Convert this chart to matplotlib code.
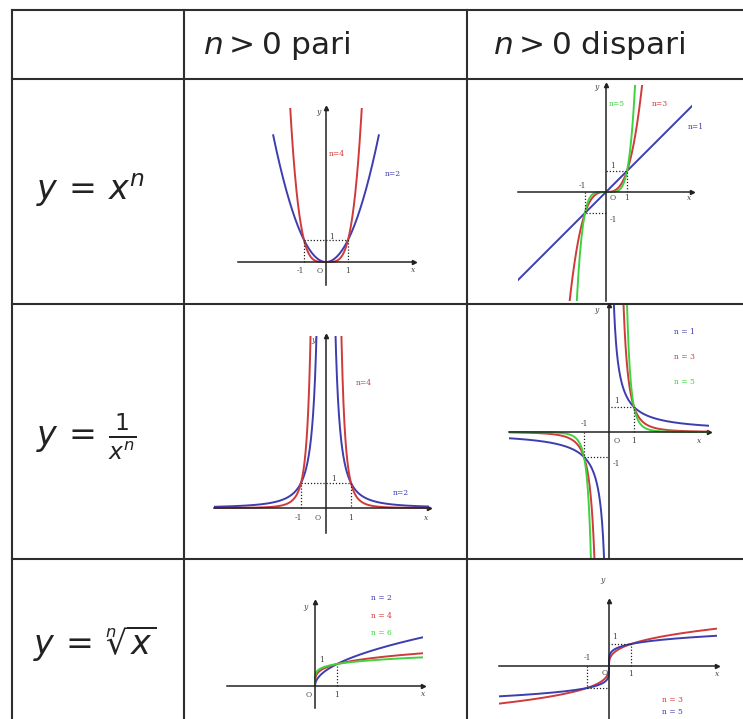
import numpy as np
import matplotlib
matplotlib.use("Agg")
import matplotlib.pyplot as plt

plt.rcParams['mathtext.fontset'] = 'dejavusans'
plt.rcParams['font.family'] = ['DejaVu Sans']

W, H = 743, 719

# ---------------- table text ----------------
col_headers = [r"$n > 0$ pari", r"$n > 0$ dispari"]
row_labels = [r"$y\,=\,x^n$", r"$y\,=\,\frac{1}{x^n}$", r"$y\,=\,\sqrt[n]{x}$"]

# ---------------- curve data (exponents and colours) ----------------
BLUE, RED, GREEN = "#3d3db0", "#d03a3a", "#3fd23f"
even_pow_n = [2, 4]
even_pow_ext = [2.4, 1.64]
even_pow_col = [BLUE, RED]
odd_pow_n = [1, 3, 5]
odd_pow_col = [BLUE, RED, GREEN]
even_inv_n = [2, 4]
even_inv_col = [BLUE, RED]
odd_inv_n = [1, 3, 5]
odd_inv_col = [BLUE, RED, GREEN]
even_root_n = [2, 4, 6]
even_root_col = [BLUE, RED, GREEN]
odd_root_n = [3, 5]
odd_root_col = [RED, BLUE]

fig = plt.figure(figsize=(W / 100, H / 100), dpi=100)
fig.patch.set_facecolor("white")

# table overlay
tab = fig.add_axes([0, 0, 1, 1], zorder=0)
tab.set_xlim(0, W)
tab.set_ylim(H, 0)
tab.axis("off")
lc, lw = "#2e2e2e", 1.5
for yy in [9.5, 79, 304, 559]:
    tab.plot([12, W], [yy, yy], color=lc, lw=lw)
for xx in [12, 184, 467]:
    tab.plot([xx, xx], [9.5, H], color=lc, lw=lw)

hdr_x = [203, 493]
for x, t in zip(hdr_x, col_headers):
    tab.text(x, 45, t, fontsize=22.5, ha="left", va="center", color="#222")
row_pos = [(90, 190), (86, 437), (95, 643)]
for (x, y), t in zip(row_pos, row_labels):
    tab.text(x, y, t, fontsize=24, ha="center", va="center", color="#222")


def make_ax(ox, oy, u, xlim, ylim):
    left = ox + xlim[0] * u
    right = ox + xlim[1] * u
    top = oy - ylim[1] * u
    bottom = oy - ylim[0] * u
    ax = fig.add_axes([left / W, 1 - bottom / H, (right - left) / W, (bottom - top) / H], zorder=2)
    ax.set_xlim(*xlim)
    ax.set_ylim(*ylim)
    ax.patch.set_alpha(0)
    for s in ["top", "right"]:
        ax.spines[s].set_visible(False)
    ax.spines["left"].set_position(("data", 0))
    ax.spines["bottom"].set_position(("data", 0))
    for s in ["left", "bottom"]:
        ax.spines[s].set_color("#222")
        ax.spines[s].set_linewidth(1.1)
    ax.set_xticks([])
    ax.set_yticks([])
    ax.plot(1, 0, ">", color="#222", ms=3, transform=ax.get_yaxis_transform(), clip_on=False)
    ax.plot(0, 1, "^", color="#222", ms=3, transform=ax.get_xaxis_transform(), clip_on=False)
    return ax


def lab(ax, x, y, t, color="#444", size=5.5, **kw):
    ax.text(x, y, t, fontsize=size, color=color, family="DejaVu Serif",
            ha="center", va="center", **kw)


def dotted(ax, xs, ys):
    ax.plot(xs, ys, color="#222", lw=0.9, ls=(0, (1, 1.5)))


# ---- P1: x^n, n even ----
ax = make_ax(326, 262, 22, (-4, 4), (-1.05, 7.0))
for n, e, c in zip(even_pow_n, even_pow_ext, even_pow_col):
    x = np.linspace(-e, e, 400)
    ax.plot(x, x ** n, color=c, lw=1.4)
dotted(ax, [-1, -1, 1, 1], [0, 1, 1, 0])
lab(ax, 0.5, 4.9, "n=4", RED)
lab(ax, 3.05, 4.0, "n=2", BLUE)
lab(ax, -0.36, 6.8, "y", style="italic")
lab(ax, 3.95, -0.36, "x", style="italic")
lab(ax, -1.15, -0.4, "-1"); lab(ax, -0.3, -0.4, "O"); lab(ax, 1, -0.4, "1"); lab(ax, 0.27, 1.15, "1")

# ---- P2: x^n, n odd ----
ax = make_ax(606, 192, 21, (-4.2, 4.1), (-5.2, 5.1))
for n, c in zip(odd_pow_n, odd_pow_col):
    x = np.linspace(-4.2, 4.1, 800)
    ax.plot(x, x ** n, color=c, lw=1.4)
dotted(ax, [-1, -1, 0], [0, -1, -1])
dotted(ax, [1, 1, 0], [0, 1, 1])
lab(ax, 0.52, 4.2, "n=5", GREEN)
lab(ax, 2.57, 4.2, "n=3", RED)
lab(ax, 4.3, 3.1, "n=1", BLUE)
lab(ax, -0.45, 5.0, "y", style="italic")
lab(ax, 3.95, -0.3, "x", style="italic")
lab(ax, -1.1, 0.3, "-1"); lab(ax, 0.3, -0.3, "O"); lab(ax, 1, -0.3, "1")
lab(ax, 0.3, 1.25, "1"); lab(ax, 0.35, -1.35, "-1")

# ---- P3: 1/x^n, n even ----
ax = make_ax(326, 508, 25, (-4.5, 4.1), (-1.0, 6.9))
for n, c in zip(even_inv_n, even_inv_col):
    for sgn in (-1, 1):
        x = sgn * np.linspace(0.3, 4.5 if sgn < 0 else 4.1, 600)
        ax.plot(x, 1 / x ** n, color=c, lw=1.4)
dotted(ax, [-1, -1, 1, 1], [0, 1, 1, 0])
lab(ax, 1.5, 5.0, "n=4", RED)
lab(ax, 3.0, 0.6, "n=2", BLUE)
lab(ax, -0.5, 6.7, "y", style="italic")
lab(ax, 4.0, -0.4, "x", style="italic")
lab(ax, -1.1, -0.4, "-1"); lab(ax, -0.35, -0.4, "O"); lab(ax, 1, -0.4, "1"); lab(ax, 0.32, 1.15, "1")

# ---- P4: 1/x^n, n odd ----
ax = make_ax(609, 432, 25, (-4, 4), (-5.05, 5.1))
for n, c in zip(odd_inv_n, odd_inv_col):
    for sgn in (-1, 1):
        x = sgn * np.linspace(0.15, 4, 600)
        ax.plot(x, 1 / x ** n, color=c, lw=1.4)
dotted(ax, [1, 1, 0], [0, 1, 1])
dotted(ax, [-1, -1, 0], [0, -1, -1])
lab(ax, 3.0, 4.0, "n = 1", BLUE)
lab(ax, 3.0, 3.0, "n = 3", RED)
lab(ax, 3.0, 2.0, "n = 5", GREEN)
lab(ax, -0.5, 4.9, "y", style="italic")
lab(ax, 3.6, -0.35, "x", style="italic")
lab(ax, -1.0, 0.3, "-1"); lab(ax, 0.3, -0.35, "O"); lab(ax, 1, -0.35, "1")
lab(ax, 0.3, 1.25, "1"); lab(ax, 0.3, -1.3, "-1")

# ---- P5: root, n even ----
ax = make_ax(315, 686, 22, (-4, 4.9), (-1.0, 3.8))
for n, c in zip(even_root_n, even_root_col):
    x = np.linspace(0, 4.9, 600)
    ax.plot(x, x ** (1 / n), color=c, lw=1.4)
dotted(ax, [1, 1], [0, 1])
lab(ax, 3.0, 4.0, "n = 2", BLUE)
lab(ax, 3.0, 3.2, "n = 4", RED)
lab(ax, 3.0, 2.4, "n = 6", GREEN)
lab(ax, -0.45, 3.6, "y", style="italic")
lab(ax, 4.9, -0.35, "x", style="italic")
lab(ax, -0.3, -0.4, "O"); lab(ax, 1, -0.4, "1"); lab(ax, 0.3, 1.2, "1")

# ---- P6: root, n odd ----
ax = make_ax(609, 666, 22, (-5, 4.9), (-2.45, 2.95))
for n, c in zip(odd_root_n, odd_root_col):
    x = np.linspace(-5, 4.9, 1200)
    ax.plot(x, np.sign(x) * np.abs(x) ** (1 / n), color=c, lw=1.4)
dotted(ax, [1, 1, 0], [0, 1, 1])
dotted(ax, [-1, -1, 0], [0, -1, -1])
lab(ax, 2.9, -1.55, "n = 3", RED)
lab(ax, 2.9, -2.1, "n = 5", BLUE)
lab(ax, -0.3, 3.9, "y", style="italic")
lab(ax, 4.9, -0.35, "x", style="italic")
lab(ax, -1.0, 0.35, "-1"); lab(ax, -0.2, -0.3, "O"); lab(ax, 1, -0.35, "1"); lab(ax, 0.27, 1.3, "1")

fig.savefig("out.png", dpi=100)
